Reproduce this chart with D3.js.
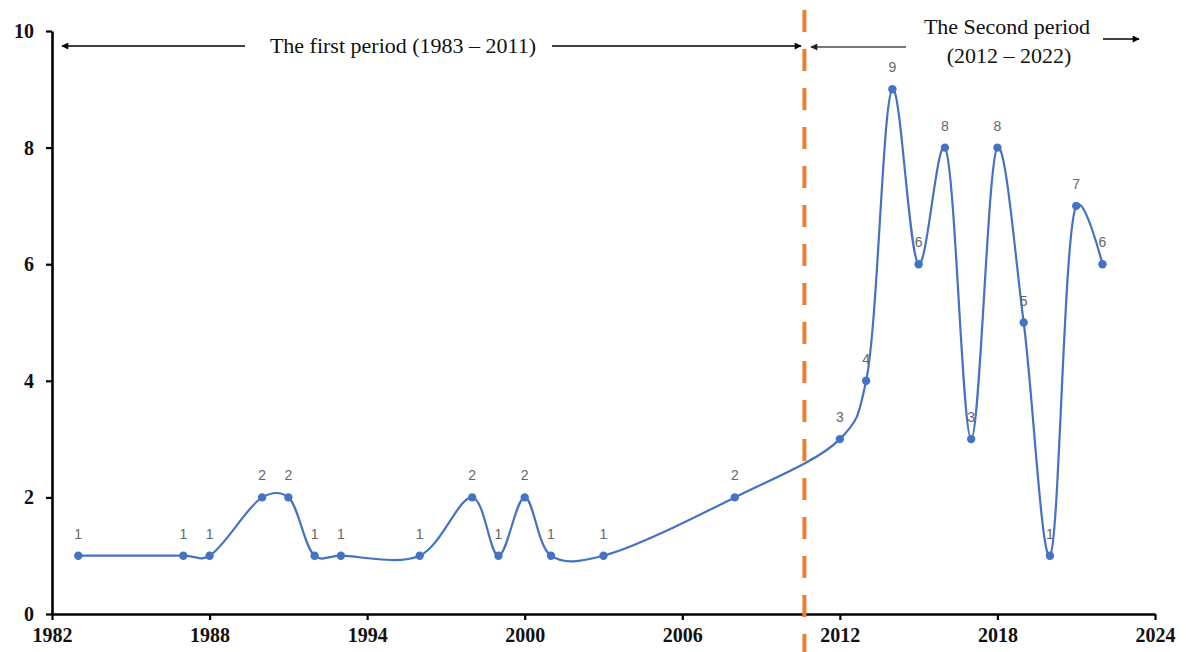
<!DOCTYPE html>
<html><head><meta charset="utf-8">
<script src="https://cdn.jsdelivr.net/npm/d3@7"></script>
<style>body{margin:0;background:#fff}</style>
</head><body>
<svg id="c" width="1186" height="652"></svg>
<script>
const years  = [1983,1987,1988,1990,1991,1992,1993,1996,1998,1999,2000,2001,2003,2008,2012,2013,2014,2015,2016,2017,2018,2019,2020,2021,2022];
const values = [1,1,1,2,2,1,1,1,2,1,2,1,1,2,3,4,9,6,8,3,8,5,1,7,6];
const xTicks = [1982,1988,1994,2000,2006,2012,2018,2024];
const yTicks = [0,2,4,6,8,10];
const divider = 2010.65;
const period1 = "The first period (1983 – 2011)";
const period2 = ["The Second period","(2012 – 2022)"];

const svg = d3.select("#c");
const x = d3.scaleLinear().domain([1982,2024]).range([52,1155]);
const y = d3.scaleLinear().domain([0,10]).range([614,31]);

const defs = svg.append("defs");
function marker(id,color){
  defs.append("marker").attr("id",id).attr("viewBox","0 0 10 10").attr("refX",9).attr("refY",5)
    .attr("markerWidth",9).attr("markerHeight",7).attr("markerUnits","userSpaceOnUse").attr("orient","auto")
    .append("path").attr("d","M0,0L10,5L0,10z").attr("fill",color);
}
marker("ab","#000"); marker("ag","#222");

// axes
const serif = "'Liberation Serif','Times New Roman',serif";
const xa = svg.append("g").attr("transform",`translate(0,${y(0)})`)
  .call(d3.axisBottom(x).tickValues(xTicks).tickFormat(d3.format("d")).tickSize(6).tickSizeOuter(0));
const ya = svg.append("g").attr("transform",`translate(${x(1982)},0)`)
  .call(d3.axisLeft(y).tickValues(yTicks).tickSize(6).tickSizeOuter(0));
[xa,ya].forEach(g=>{
  g.select(".domain").attr("stroke","#000").attr("stroke-width",2.6);
  g.selectAll(".tick line").attr("stroke","#000").attr("stroke-width",2.2);
  g.selectAll("text").attr("font-family",serif).attr("font-weight","bold").attr("font-size",20).attr("fill","#111");
});
xa.selectAll("text").attr("dy","0.95em");
ya.selectAll("text").attr("dx","-0.45em");

// divider
svg.append("line").attr("x1",x(divider)).attr("x2",x(divider)).attr("y1",10).attr("y2",652)
  .attr("stroke","#ED7D31").attr("stroke-width",4).attr("stroke-dasharray","22,17");

// annotations
svg.append("text").attr("x",403).attr("y",53).attr("text-anchor","middle").attr("font-family",serif)
  .attr("font-size",22).attr("fill","#111").text(period1);
svg.append("line").attr("x1",245).attr("x2",62).attr("y1",46).attr("y2",46).attr("stroke","#000").attr("stroke-width",1.3).attr("marker-end","url(#ab)");
svg.append("line").attr("x1",552).attr("x2",801).attr("y1",46).attr("y2",46).attr("stroke","#000").attr("stroke-width",1.3).attr("marker-end","url(#ab)");
svg.append("line").attr("x1",906).attr("x2",811).attr("y1",47).attr("y2",47).attr("stroke","#777").attr("stroke-width",2).attr("marker-end","url(#ag)");
svg.append("text").attr("x",1007).attr("y",34).attr("text-anchor","middle").attr("font-family",serif)
  .attr("font-size",22).attr("fill","#111").text(period2[0]);
svg.append("text").attr("x",1009).attr("y",63).attr("text-anchor","middle").attr("font-family",serif)
  .attr("font-size",22).attr("fill","#111").text(period2[1]);
svg.append("line").attr("x1",1103).attr("x2",1139).attr("y1",39).attr("y2",39).attr("stroke","#000").attr("stroke-width",1.3).attr("marker-end","url(#ab)");

// series
const data = years.map((d,i)=>({yr:d,v:values[i]}));
const line = d3.line().x(d=>x(d.yr)).y(d=>y(d.v)).curve(d3.curveCatmullRom.alpha(0.3));
svg.append("path").datum(data).attr("d",line).attr("fill","none").attr("stroke","#4472C4").attr("stroke-width",2.2);
svg.selectAll("circle.p").data(data).join("circle").attr("class","p")
  .attr("cx",d=>x(d.yr)).attr("cy",d=>y(d.v)).attr("r",4.2).attr("fill","#4472C4");
svg.selectAll("text.l").data(data).join("text").attr("class","l")
  .attr("x",d=>x(d.yr)).attr("y",d=>y(d.v)-17).attr("text-anchor","middle")
  .attr("font-family","'Liberation Sans',Arial,sans-serif").attr("font-size",14).attr("fill","#666").text(d=>d.v);
</script>
</body></html>
